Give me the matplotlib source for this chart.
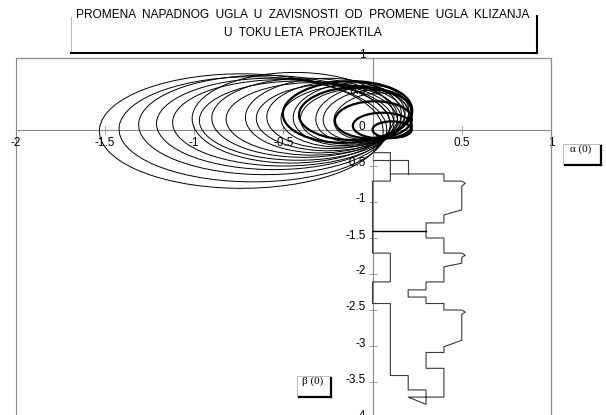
import matplotlib
matplotlib.use('Agg')
import matplotlib.pyplot as plt
from matplotlib.patches import Ellipse, Rectangle
from matplotlib.lines import Line2D
import matplotlib.transforms as mtrans

plt.rcParams['font.family'] = ['Liberation Sans', 'DejaVu Sans']

# ---- data ----
# thin loops: left edge, right edge, top, bottom, tilt (deg)
loop_left = [-1.53, -1.42, -1.31, -1.21, -1.12, -1.01, -0.97, -0.90, -0.82,
             -0.71, -0.65, -0.59, -0.51, -0.44, -0.40, -0.31, -0.27, -0.21]
loop_right = [0.06, 0.08, 0.10, 0.10, 0.12, 0.12, 0.14, 0.14, 0.16,
              0.16, 0.18, 0.18, 0.20, 0.20, 0.20, 0.21, 0.21, 0.21]
loop_top = [0.78, 0.74, 0.76, 0.72, 0.70, 0.80, 0.68, 0.72, 0.66,
            0.72, 0.64, 0.68, 0.62, 0.66, 0.58, 0.62, 0.56, 0.52]
loop_bottom = [-0.81, -0.72, -0.62, -0.55, -0.50, -0.46, -0.42, -0.38, -0.35,
               -0.32, -0.29, -0.26, -0.24, -0.22, -0.20, -0.18, -0.16, -0.14]
loop_tilt = [-3, -3, -4, -4, -5, -5, -6, -6, -7, -8, -8, -9, -10, -10, -11, -12, -12, -12]

# bold inner loops
bold_left = [-0.50, -0.41, -0.21, -0.11, 0.00]
bold_right = [0.22, 0.22, 0.22, 0.22, 0.22]
bold_top = [0.68, 0.60, 0.40, 0.24, 0.12]
bold_bottom = [-0.18, -0.14, -0.12, -0.12, -0.11]
bold_tilt = [-10, -10, -6, -3, 0]

# stepped path below the x axis
stair_x = [0.0, 0.1, 0.1, 0.0, 0.0, 0.1, 0.1, 0.0, 0.0, 0.1, 0.1, 0.2, 0.2, 0.3,
           0.3, 0.2, 0.4, 0.4, 0.3, 0.3, 0.4, 0.4, 0.5, 0.5, 0.52, 0.5, 0.4, 0.4,
           0.3, 0.3, 0.2, 0.2, 0.3, 0.3, 0.4, 0.4, 0.5, 0.5, 0.52, 0.5, 0.4, 0.4,
           0.3, 0.3, 0.4, 0.4, 0.5, 0.5, 0.52, 0.5, 0.4, 0.4, 0.1]
stair_y = [-0.315, -0.315, -0.71, -0.71, -1.71, -1.71, -2.11, -2.11, -2.41, -2.41,
           -3.41, -3.41, -3.61, -3.61, -3.81, -3.71, -3.71, -3.31, -3.31, -3.09,
           -3.09, -3.01, -2.92, -2.56, -2.53, -2.50, -2.50, -2.41, -2.41, -2.32,
           -2.32, -2.22, -2.22, -2.11, -2.11, -1.90, -1.85, -1.77, -1.74, -1.71,
           -1.71, -1.50, -1.50, -1.29, -1.29, -1.18, -1.11, -0.78, -0.74, -0.71,
           -0.71, -0.61, -0.61]
side_x = [0.0, 0.2, 0.2]
side_y = [-0.41, -0.41, -0.61]
dark_x = [0.0, 0.3]
dark_y = [-1.40, -1.40]

x_ticks = [-2, -1.5, -1, -0.5, 0.5, 1]
x_tick_labels = ['-2', '-1.5', '-1', '-0.5', '0.5', '1']
y_ticks = [1, 0.5, 0, -0.5, -1, -1.5, -2, -2.5, -3, -3.5, -4]
y_tick_labels = ['1', '0.5', '0', '-0.5', '-1', '-1.5', '-2', '-2.5', '-3', '-3.5', '-4']

title_lines = ['PROMENA  NAPADNOG  UGLA  U  ZAVISNOSTI  OD  PROMENE  UGLA  KLIZANJA',
               'U  TOKU LETA  PROJEKTILA']
x_label = 'α (0)'
y_label = 'β (0)'

# ---- figure ----
W, H = 606, 415
fig = plt.figure(figsize=(W / 100, H / 100), dpi=100)
fig.patch.set_facecolor('white')

def fx(px):
    return px / W

def fy(py):
    return 1 - py / H

ax = fig.add_axes([fx(15.5), fy(418), (551 - 15.5) / W, (418 - 58) / H])
ax.set_xlim(-2, 1)
ax.set_ylim(-4, 1)
ax.set_facecolor('white')

grey = '#8a8a8a'
ax.spines['left'].set_position('zero')
ax.spines['bottom'].set_position('zero')
for s in ['left', 'bottom', 'top', 'right']:
    ax.spines[s].set_color(grey)
    ax.spines[s].set_linewidth(0.8)
ax.add_patch(Rectangle((0, 0), 1, 1, transform=ax.transAxes, fill=False,
                       ec=grey, lw=0.8, clip_on=False, zorder=0.5))

ax.set_xticks(x_ticks)
ax.set_xticklabels(x_tick_labels)
ax.set_yticks(y_ticks)
ax.set_yticklabels(y_tick_labels)
ax.tick_params(direction='inout', length=6, width=0.6, color=grey,
               labelsize=8.5, labelcolor='black')
ax.tick_params(axis='x', pad=2)
ax.tick_params(axis='y', pad=2)
up = mtrans.ScaledTranslation(0, 4 / 100, fig.dpi_scale_trans)
for lab in ax.get_yticklabels():
    lab.set_transform(lab.get_transform() + up)

# loops
for L, R, T, B, a in zip(loop_left, loop_right, loop_top, loop_bottom, loop_tilt):
    ax.add_patch(Ellipse(((L + R) / 2, (T + B) / 2), R - L, T - B, angle=a,
                         fill=False, ec='black', lw=0.7, zorder=3))
for L, R, T, B, a in zip(bold_left, bold_right, bold_top, bold_bottom, bold_tilt):
    ax.add_patch(Ellipse(((L + R) / 2, (T + B) / 2), R - L, T - B, angle=a,
                         fill=False, ec='black', lw=1.6, zorder=3))

# stepped path
ax.plot(stair_x, stair_y, color='#3a3a3a', lw=0.8, zorder=3)
ax.plot(side_x, side_y, color='#3a3a3a', lw=0.8, zorder=3)
ax.plot(dark_x, dark_y, color='black', lw=1.0, zorder=3)

# ---- title box ----
fig.add_artist(Line2D([fx(71), fx(71)], [fy(17), fy(53)], color='#b0b0b0', lw=0.6))
fig.add_artist(Line2D([fx(71), fx(537)], [fy(53), fy(53)], color='black', lw=1.5))
fig.add_artist(Line2D([fx(537), fx(537)], [fy(16), fy(53)], color='black', lw=1.5))
fig.text(fx(303), fy(15), title_lines[0], ha='center', va='center', fontsize=8.6)
fig.text(fx(303), fy(33), title_lines[1], ha='center', va='center', fontsize=8.6)

# ---- axis name boxes ----
def name_box(x0, y0, x1, y1, text, tx, ty):
    fig.add_artist(Rectangle((fx(x0), fy(y1)), fx(x1) - fx(x0), fy(y0) - fy(y1),
                             transform=fig.transFigure, fc='white', ec='#b0b0b0',
                             lw=0.6, zorder=5))
    fig.add_artist(Line2D([fx(x1 + 1), fx(x1 + 1)], [fy(y0 + 2), fy(y1 + 1)],
                          color='black', lw=1.6, zorder=6))
    fig.add_artist(Line2D([fx(x0 + 2), fx(x1 + 1)], [fy(y1 + 1), fy(y1 + 1)],
                          color='black', lw=1.6, zorder=6))
    fig.text(fx(tx), fy(ty), text, ha='center', va='center', fontsize=8,
             family=['Liberation Serif', 'DejaVu Serif'], zorder=7)

name_box(563, 144, 600, 164, x_label, 581, 149)
name_box(297, 376, 330, 396, y_label, 313, 381)

fig.savefig('out.png', dpi=100, facecolor='white')
